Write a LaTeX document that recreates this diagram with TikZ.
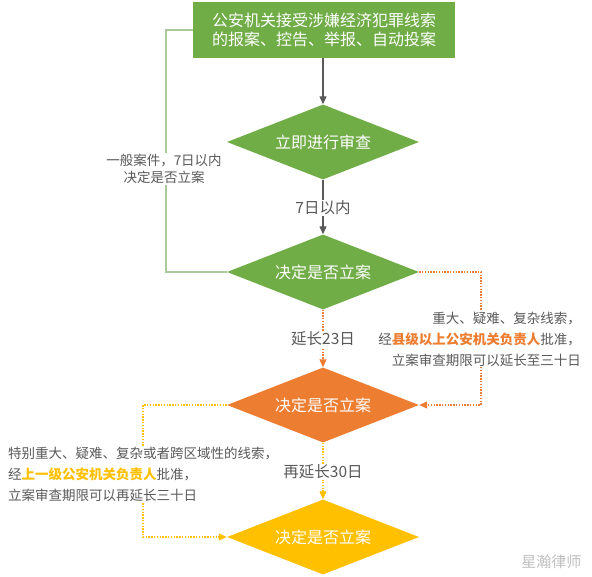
\documentclass[tikz,border=0pt]{standalone}
\usepackage{fontspec}
\setmainfont{Noto Sans CJK SC}
\usetikzlibrary{shapes.geometric,arrows.meta}
\definecolor{cgreen}{HTML}{70AD47}
\definecolor{corange}{HTML}{ED7D31}
\definecolor{cyellow}{HTML}{FFC000}
\definecolor{cgray}{HTML}{595959}
\definecolor{clgreen}{HTML}{A9C99A}
\tikzset{
  dia/.style={diamond, aspect=2.6, inner sep=0pt, minimum width=192pt, minimum height=75pt,
    text=white, font=\fontsize{16pt}{19pt}\selectfont},
  lbl/.style={fill=white, text=cgray, inner sep=1pt, font=\fontsize{13.5pt}{21pt}\selectfont},
  biglbl/.style={fill=white, text=cgray, inner sep=1pt, font=\fontsize{15.5pt}{18pt}\selectfont},
  solidarr/.style={draw=cgray, line width=1.1pt, -{Triangle[length=8pt,width=7pt]}},
  dotor/.style={draw=corange, line width=1.1pt, dash pattern=on 1.4pt off 1.4pt},
  dotye/.style={draw=cyellow, line width=1.1pt, dash pattern=on 1.4pt off 1.4pt},
  tipor/.style={-{Triangle[length=8pt,width=7pt,fill=corange,color=corange]}},
  tipye/.style={-{Triangle[length=8pt,width=7pt,fill=cyellow,color=cyellow]}},
}
\begin{document}
\begin{tikzpicture}[x=1pt,y=-1pt]
\useasboundingbox (0,0) rectangle (592,577);
% top box
\node[fill=cgreen, text=white, minimum width=262pt, minimum height=56pt, inner sep=0pt,
  align=left, font=\fontsize{16pt}{19pt}\selectfont] (top) at (324,30)
  {公安机关接受涉嫌经济犯罪线索\\的报案、控告、举报、自动投案};
% diamonds
\node[dia, fill=cgreen] (d1) at (323,142) {立即进行审查};
\node[dia, fill=cgreen] (d2) at (323,272) {决定是否立案};
\node[dia, fill=corange] (d3) at (323,405) {决定是否立案};
\node[dia, fill=cyellow] (d4) at (323,537) {决定是否立案};
% coordinates
\coordinate (lc) at (166,30);
\coordinate (rc) at (481,272);
\coordinate (yc) at (143,405);
% connectors
\draw[solidarr] (top.south -| d1.north) -- (d1.north);
\draw[solidarr] (d1.south) -- (d2.north);
\draw[draw=clgreen, line width=1.1pt] (top.west) -- (lc) |- (d2.west);
\draw[dotor, tipor] (d2.south) -- (d3.north);
\draw[dotor, tipor] (d2.east) -- (rc) |- (d3.east);
\draw[dotye, tipye] (d3.south) -- (d4.north);
\draw[dotye, tipye] (d3.west) -- (yc) |- (d4.west);
% labels
\node[lbl, align=center, font=\fontsize{13.5pt}{16.5pt}\selectfont] (l1) at (164,169) {一般案件，7日以内\\决定是否立案};
\node[biglbl] (l2) at (323,208) {7日以内};
\node[biglbl] (l3) at (323,339) {延长23日};
\node[biglbl] (l4) at (323,472) {再延长30日};
\node[lbl, align=right, anchor=east] (l5) at (582,339)
  {重大、疑难、复杂线索，\\经{\bfseries\color{corange}县级以上公安机关负责人}批准，\\立案审查期限可以延长至三十日};
\node[lbl, align=left, anchor=west] (l6) at (7,474)
  {特别重大、疑难、复杂或者跨区域性的线索，\\经{\bfseries\color{cyellow}上一级公安机关负责人}批准，\\立案审查期限可以再延长三十日};
% watermark
\node[text=black!25, font=\fontsize{15pt}{18pt}\selectfont, anchor=east] (wm) at (585,562) {星瀚律师};
\end{tikzpicture}
\end{document}
